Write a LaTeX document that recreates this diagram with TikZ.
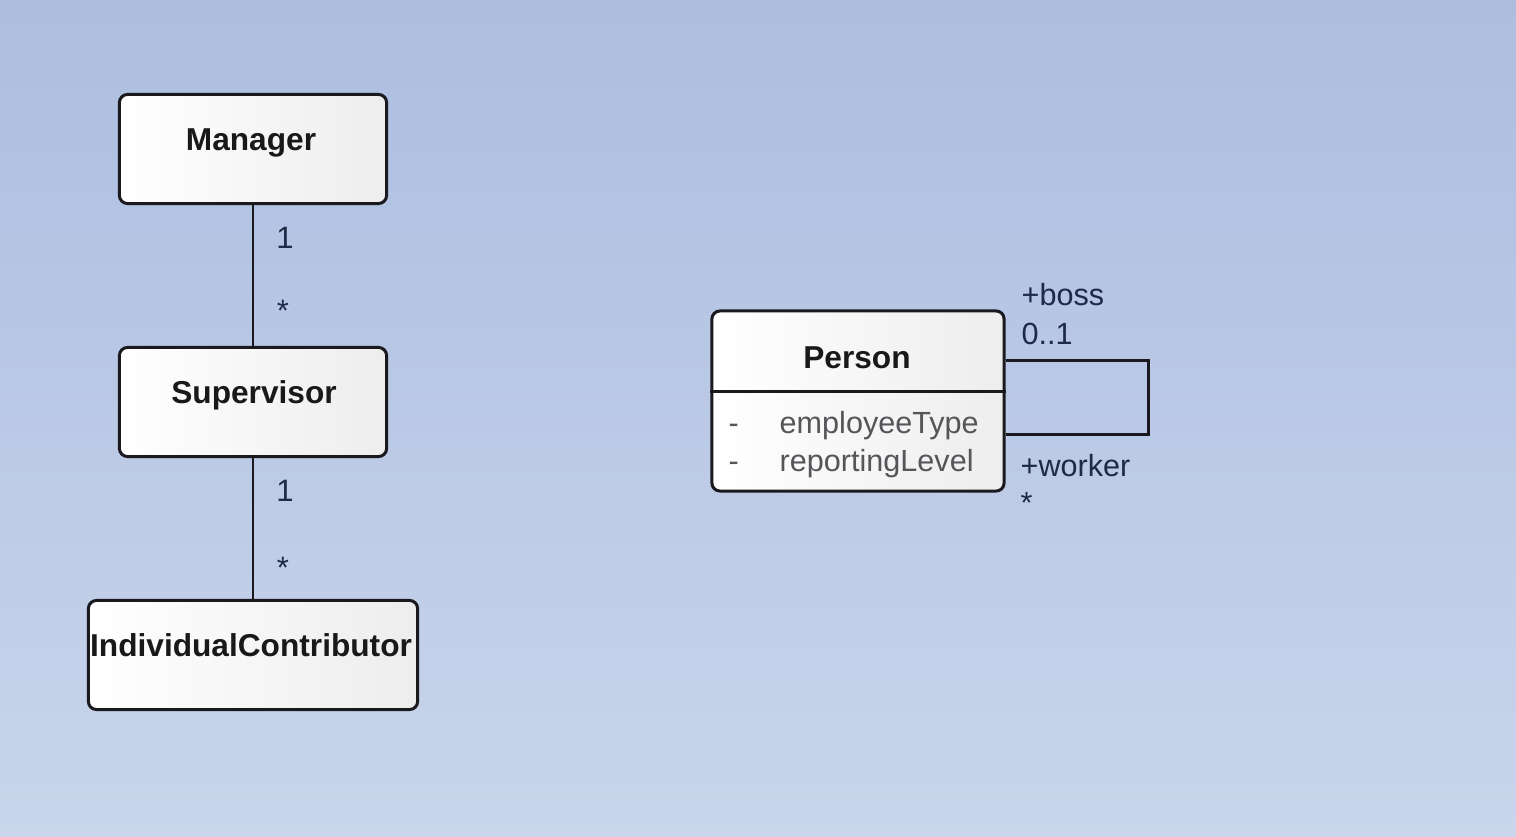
\documentclass[tikz,border=0pt]{standalone}
\usepackage{fontspec}
\setmainfont{Liberation Sans}
\usetikzlibrary{calc}
\definecolor{bgtop}{RGB}{172,189,224}
\definecolor{bgbot}{RGB}{201,213,235}
\definecolor{lbl}{RGB}{30,42,70}
\definecolor{attr}{RGB}{85,85,90}
\definecolor{edge}{RGB}{25,25,30}
\tikzset{
  cls/.style={draw=edge, line width=0.85pt, rounded corners=0.08cm, left color=white, right color=gray!14, inner sep=0pt},
  title/.style={anchor=base, font=\bfseries\fontsize{9}{10}\selectfont, text=black!90, inner sep=0pt},
  mult/.style={anchor=base, font=\fontsize{8.8}{10}\selectfont, text=lbl, inner sep=0pt},
  role/.style={anchor=base west, font=\fontsize{8.7}{10}\selectfont, text=lbl, inner sep=0pt},
  attrtxt/.style={anchor=base west, font=\fontsize{8.7}{10}\selectfont, text=attr, inner sep=0pt},
  assoc/.style={draw=edge, line width=0.75pt},
}
\begin{document}
\begin{tikzpicture}[x=0.01cm,y=-0.01cm]
\fill[top color=bgtop, bottom color=bgbot] (0,0) rectangle (1516,837);
\useasboundingbox (0,0) rectangle (1516,837);

% class boxes
\node[cls, minimum width=2.67cm, minimum height=1.09cm] (m) at (253,149) {};
\node[cls, minimum width=2.67cm, minimum height=1.09cm] (s) at (253,402) {};
\node[cls, minimum width=3.29cm, minimum height=1.09cm] (ic) at (253,655) {};
\node[title] (mt) at (251,151) {Manager};
\node[title] (st) at (254,403) {Supervisor};
\node[title] (ict) at (251,656) {IndividualContributor};

% associations
\draw[assoc] (m.south) -- (s.north);
\draw[assoc] (s.south) -- (ic.north);
\node[mult] (m1) at (285,249) {1};
\node[mult] (m2) at (283,321) {*};
\node[mult] (m3) at (285,501) {1};
\node[mult] (m4) at (283,578) {*};

% Person class
\node[cls, minimum width=2.92cm, minimum height=1.80cm] (p) at (858,401) {};
\draw[assoc, line width=0.8pt] ($(p.north west)+(0,82)$) coordinate (dl) -- ($(p.north east)+(0,82)$) coordinate (dr);
\node[title] (pt) at (857,368) {Person};
\node[attrtxt] (a1m) at (728,433) {-};
\node[attrtxt] (a1) at (779,433) {employeeType};
\node[attrtxt] (a2m) at (728,471) {-};
\node[attrtxt] (a2) at (779,471) {reportingLevel};

% self association
\coordinate (l1) at ($(p.north east)+(0,51)$);
\coordinate (l2) at ($(p.north east)+(0,125)$);
\draw[assoc] (l1) -- ++(143,0) |- (l2);
\node[role] (boss) at (1021,306) {+boss};
\node[role] (bm) at (1021,344) {0..1};
\node[role] (wk) at (1020,476) {+worker};
\node[role] (wm) at (1020,513) {*};
\end{tikzpicture}
\end{document}
